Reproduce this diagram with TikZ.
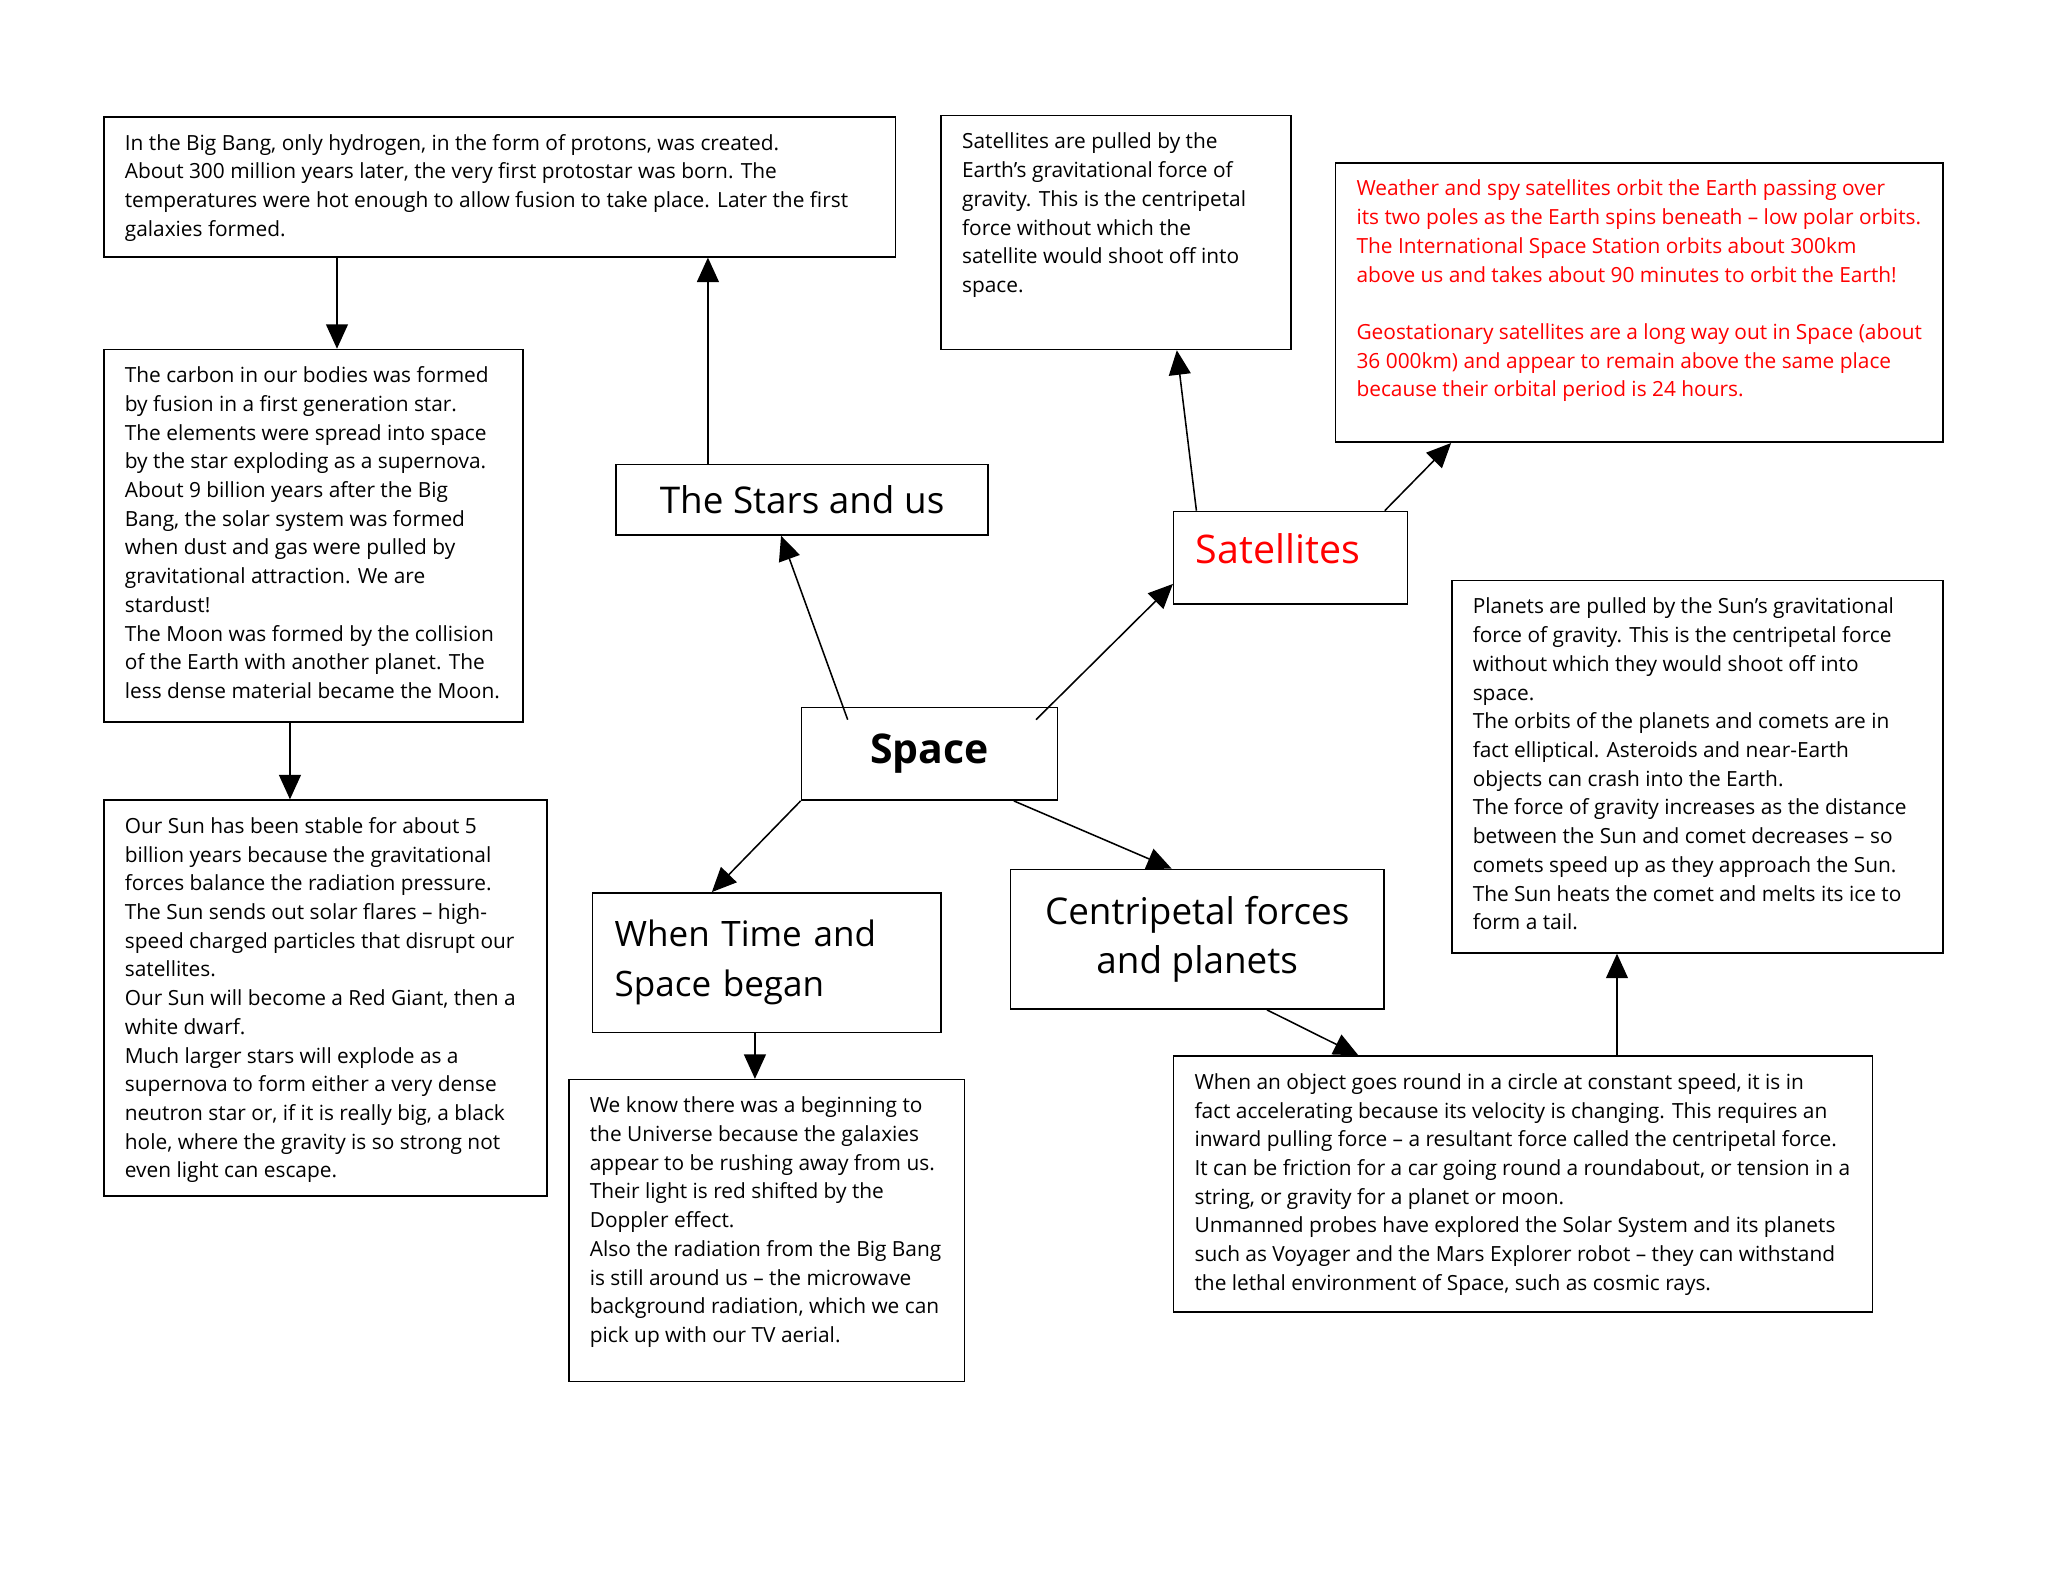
\documentclass[tikz,border=0pt]{standalone}
\usepackage{fontspec}
\setmainfont{Open Sans}
\usetikzlibrary{arrows.meta,calc}
\newlength\pu
\setlength\pu{0.017819cm}
\newcommand\smalltext{\fontsize{8.1pt}{11.15pt}\selectfont}
\newcommand\headtext{\fontsize{14.3pt}{19.3pt}\selectfont}
\newcommand\note[3]{\parbox[t][#2\pu][t]{#1\pu}{\smalltext\raggedright\strut #3}}
\tikzset{
  box/.style={draw, line width=0.6pt, anchor=north west, inner xsep=16\pu, inner ysep=10\pu},
  head/.style={draw, line width=0.6pt, anchor=north west, inner sep=0pt, font=\headtext},
  link/.style={-{Triangle[length=9.5pt,width=8.5pt]}, line width=0.6pt},
}
\begin{document}
\begin{tikzpicture}[x=\pu, y=-1\pu]
			\useasboundingbox (0,0) rectangle (1568,1211);
			
			%%%%% TEXT BOXES %%%%%
			
			\node[box] (bigbang) at (79,89) {\note{574}{87}{In the Big Bang, only hydrogen, in the form of protons, was created.\\
				About 300 million years later, the very first protostar was born. The\\
				temperatures were hot enough to allow fusion to take place. Later the first\\
				galaxies formed.}};
			
			\node[box] (carbon) at (79,267) {\note{289}{265}{The carbon in our bodies was formed\\
				by fusion in a first generation star.\\
				The elements were spread into space\\
				by the star exploding as a supernova.\\
				About 9 billion years after the Big\\
				Bang, the solar system was formed\\
				when dust and gas were pulled by\\
				gravitational attraction. We are\\
				stardust!\\
				The Moon was formed by the collision\\
				of the Earth with another planet. The\\
				less dense material became the Moon.}};
			
			\node[box] (sun) at (79,612) {\note{307}{283}{Our Sun has been stable for about 5\\
				billion years because the gravitational\\
				forces balance the radiation pressure.\\
				The Sun sends out solar flares – high-\\
				speed charged particles that disrupt our\\
				satellites.\\
				Our Sun will become a Red Giant, then a\\
				white dwarf.\\
				Much larger stars will explode as a\\
				supernova to form either a very dense\\
				neutron star or, if it is really big, a black\\
				hole, where the gravity is so strong not\\
				even light can escape.}};
			
			\node[box] (universe) at (435,826) {\note{271}{211}{We know there was a beginning to\\
				the Universe because the galaxies\\
				appear to be rushing away from us.\\
				Their light is red shifted by the\\
				Doppler effect.\\
				Also the radiation from the Big Bang\\
				is still around us – the microwave\\
				background radiation, which we can\\
				pick up with our TV aerial.}};
			
			\node[box] (satpull) at (720,88) {\note{236}{159}{Satellites are pulled by the\\
				Earth’s gravitational force of\\
				gravity. This is the centripetal\\
				force without which the\\
				satellite would shoot off into\\
				space.}};
			
			\node[box, text=red] (weather) at (1022,124) {\note{433}{194}{Weather and spy satellites orbit the Earth passing over\\
				its two poles as the Earth spins beneath – low polar orbits.\\
				The International Space Station orbits about 300km\\
				above us and takes about 90 minutes to orbit the Earth!\\[11.15pt]
				Geostationary satellites are a long way out in Space (about\\
				36 000km) and appear to remain above the same place\\
				because their orbital period is 24 hours.}};
			
			\node[box] (planets) at (1111,444) {\note{344}{265}{Planets are pulled by the Sun’s gravitational\\
				force of gravity. This is the centripetal force\\
				without which they would shoot off into\\
				space.\\
				The orbits of the planets and comets are in\\
				fact elliptical. Asteroids and near-Earth\\
				objects can crash into the Earth.\\
				The force of gravity increases as the distance\\
				between the Sun and comet decreases – so\\
				comets speed up as they approach the Sun.\\
				The Sun heats the comet and melts its ice to\\
				form a tail.}};
			
			\node[box] (circle) at (898,808) {\note{503}{176}{When an object goes round in a circle at constant speed, it is in\\
				fact accelerating because its velocity is changing. This requires an\\
				inward pulling force – a resultant force called the centripetal force.\\
				It can be friction for a car going round a roundabout, or tension in a\\
				string, or gravity for a planet or moon.\\
				Unmanned probes have explored the Solar System and its planets\\
				such as Voyager and the Mars Explorer robot – they can withstand\\
				the lethal environment of Space, such as cosmic rays.}};
			
			%%%%% HEADINGS %%%%%
			
			\node[head, minimum width=285\pu, minimum height=54\pu] (stars) at (471,355) {The Stars and us};
			\node[head, minimum width=196\pu, minimum height=71\pu, font=\fontsize{15.9pt}{18pt}\selectfont\bfseries] (space) at (613,541) {Space};
			\node[head, text=red, minimum height=71\pu, text width=145\pu, inner xsep=17\pu, text depth=14\pu, align=left, font=\fontsize{15.3pt}{19pt}\selectfont] (satellites) at (898,391) {Satellites};
			\node[head, minimum height=107\pu, text width=233\pu, inner xsep=17\pu, align=left, font=\fontsize{13.6pt}{19.3pt}\selectfont] (whentime) at (453,683) {When Time and\\Space began};
			\node[head, minimum width=286\pu, minimum height=107\pu, align=center] (centripetal) at (773,665) {Centripetal forces\\and planets};
			
			%%%%% LINKS %%%%%
			
			\draw[link] ([xshift=179\pu]bigbang.south west) -- ([xshift=179\pu]carbon.north west);
			\draw[link] ([xshift=143\pu]carbon.south west) -- ([xshift=143\pu]sun.north west);
			\draw[link] ([xshift=71\pu]stars.north west) -- ([xshift=463\pu]bigbang.south west);
			\draw[link] ([xshift=36\pu,yshift=-10\pu]space.north west) -- ([xshift=127\pu]stars.south west);
			\draw[link] ([xshift=-17\pu,yshift=-10\pu]space.north east) -- ([yshift=-20\pu]satellites.west);
			\draw[link] (space.south west) -- ([xshift=92\pu]whentime.north west);
			\draw[link] ([xshift=-34\pu]space.south east) -- ([xshift=124\pu]centripetal.north west);
			\draw[link] ([xshift=125\pu]whentime.south west) -- ([xshift=143\pu]universe.north west);
			\draw[link] ([xshift=18\pu]satellites.north west) -- ([xshift=181\pu]satpull.south west);
			\draw[link] ([xshift=-18\pu]satellites.north east) -- ([xshift=89\pu]weather.south west);
			\draw[link] ([xshift=197\pu]centripetal.south west) -- ([xshift=142\pu]circle.north west);
			\draw[link] ([xshift=340\pu]circle.north west) -- ([xshift=127\pu]planets.south west);
			
\end{tikzpicture}
\end{document}
